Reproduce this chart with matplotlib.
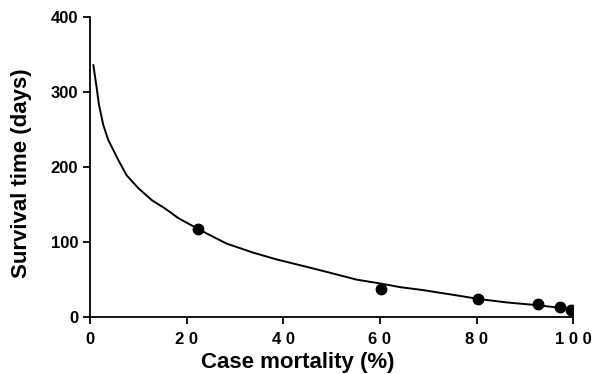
import matplotlib.pyplot as plt

# Dati
mortalita = [22.4, 60.2, 80.2, 92.7, 97.2, 99.6]
sopravvivenza = [118, 38, 24.5, 18, 14, 9.5]

curva_x = [0.7, 1.4, 1.86, 2.76, 3.8, 5.9, 7.6, 10.0, 12.8, 15.5, 18.3, 21.7,
           22.8, 28.3, 33.8, 38.6, 44.9, 50.4, 55.2, 60.0, 64.2, 69.0, 75.9,
           80.7, 86.3, 92.5, 96.6, 99.7]
curva_y = [336, 305, 283, 256, 236, 209, 189, 172, 156, 145, 132, 120,
           116, 98, 86, 77, 67, 58, 50, 45, 40, 36, 29,
           24, 19.6, 16, 13, 10.5]

plt.rcParams['font.family'] = ['Liberation Sans', 'DejaVu Sans']
plt.rcParams['font.weight'] = 'bold'

fig = plt.figure(figsize=(6.04, 3.74), dpi=100)
ax = fig.add_axes([0.149, 0.152, 0.80, 0.802])

ax.plot(curva_x, curva_y, color='black', linewidth=1.4)
ax.plot(mortalita, sopravvivenza, 'o', color='black', markersize=7.5)

ax.set_xlim(0, 100)
ax.set_ylim(0, 400)
ax.set_xticks([0, 20, 40, 60, 80, 100])
ax.set_xticklabels(['0', '2 0', '4 0', '6 0', '8 0', '1 0 0'])
ax.set_yticks([0, 100, 200, 300, 400])

for lato in ['top', 'right']:
    ax.spines[lato].set_visible(False)
for lato in ['left', 'bottom']:
    ax.spines[lato].set_linewidth(1.3)

ax.tick_params(axis='both', direction='out', length=5, width=1.3, labelsize=12)
ax.tick_params(axis='x', pad=6)
for etichetta in ax.get_xticklabels() + ax.get_yticklabels():
    etichetta.set_fontweight('bold')

ax.set_xlabel('Case mortality (%)', fontsize=16, fontweight='bold')
ax.xaxis.set_label_coords(0.43, -0.115)
ax.set_ylabel('Survival time (days)', fontsize=16, fontweight='bold')
ax.yaxis.set_label_coords(-0.12, 0.48)

plt.savefig('out.png', dpi=100)
